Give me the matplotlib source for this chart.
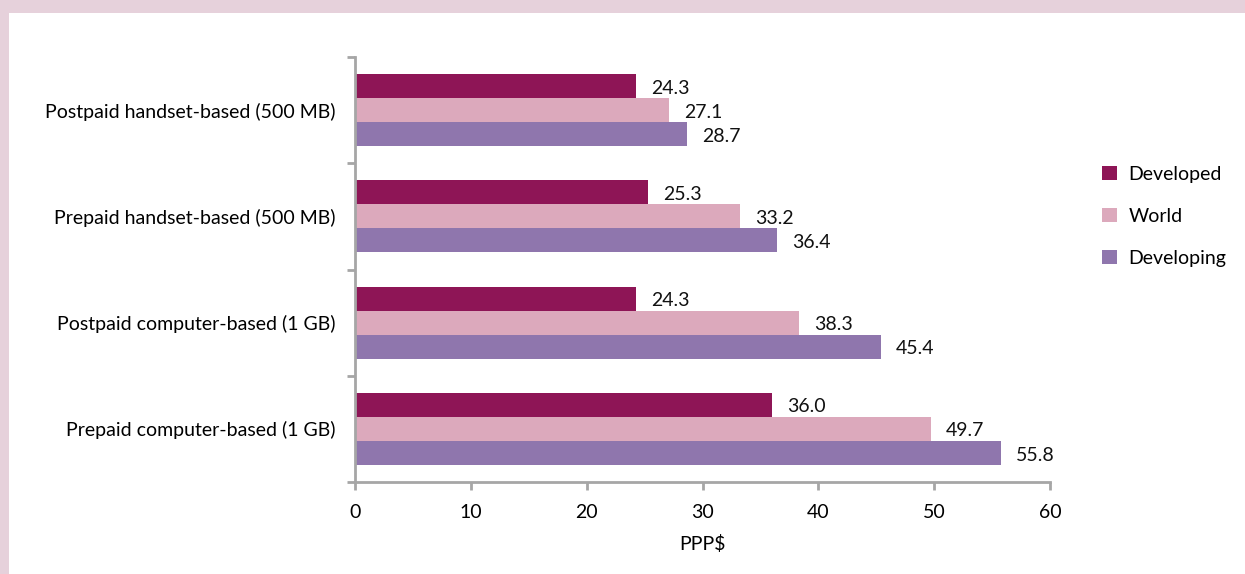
import matplotlib
matplotlib.use("Agg")
import matplotlib.pyplot as plt
import numpy as np
from matplotlib.patches import Rectangle

categories = ["Prepaid computer-based (1 GB)", "Postpaid computer-based (1 GB)",
              "Prepaid handset-based (500 MB)", "Postpaid handset-based (500 MB)"]
developed = [36.0, 24.3, 25.3, 24.3]
world = [49.7, 38.3, 33.2, 27.1]
developing = [55.8, 45.4, 36.4, 28.7]
series_names = ["Developed", "World", "Developing"]
colors = ["#8E1556", "#DCA9BC", "#8F76AD"]

plt.rcParams['font.family'] = ['Lato', 'DejaVu Sans']
fig = plt.figure(figsize=(12.45, 5.74), dpi=100)
fig.patch.set_facecolor("white")
# pink frame
fig.patches.append(Rectangle((0, 1 - 13/574), 1, 13/574, transform=fig.transFigure,
                             facecolor="#E6D1DB", edgecolor="none", zorder=0))
fig.patches.append(Rectangle((0, 0), 9/1245, 1, transform=fig.transFigure,
                             facecolor="#E6D1DB", edgecolor="none", zorder=0))

ax = fig.add_axes([355/1245, 1 - 482/574, (1050 - 355)/1245, (482 - 57)/574])
y = np.arange(len(categories))
h = 0.226
offsets = [h, 0, -h]
fs = 14
for vals, name, col, off in zip([developed, world, developing], series_names, colors, offsets):
    ax.barh(y + off, vals, height=h, color=col, label=name, edgecolor="none")
    for yi, v in zip(y, vals):
        ax.text(v + 1.3, yi + off - 0.02, f"{v:.1f}", va="center", ha="left", fontsize=fs, color="#111111")

ax.set_xlim(0, 60)
ax.set_ylim(-0.5, 3.5)
ax.set_xticks(np.arange(0, 61, 10))
ax.set_yticks(np.arange(-0.5, 3.6, 1))
ax.set_yticklabels([])
ax.set_yticks(y, minor=True)
ax.set_yticklabels(categories, minor=True, fontsize=fs)
ax.tick_params(axis="y", which="minor", length=0, pad=14)
ax.tick_params(axis="y", which="major", length=6, width=2, color="#A6A6A6")
ax.tick_params(axis="x", length=6, width=2, color="#A6A6A6", labelsize=fs, pad=10)
for s in ["top", "right"]:
    ax.spines[s].set_visible(False)
for s in ["left", "bottom"]:
    ax.spines[s].set_color("#A6A6A6")
    ax.spines[s].set_linewidth(2)
ax.set_xlabel("PPP$", fontsize=fs, labelpad=10)

ax.legend(loc="center left", bbox_to_anchor=(1.05, 0.625), frameon=False, fontsize=fs,
          handlelength=0.75, handleheight=0.75, labelspacing=1.3, handletextpad=0.6)

fig.savefig("out.png", dpi=100)
